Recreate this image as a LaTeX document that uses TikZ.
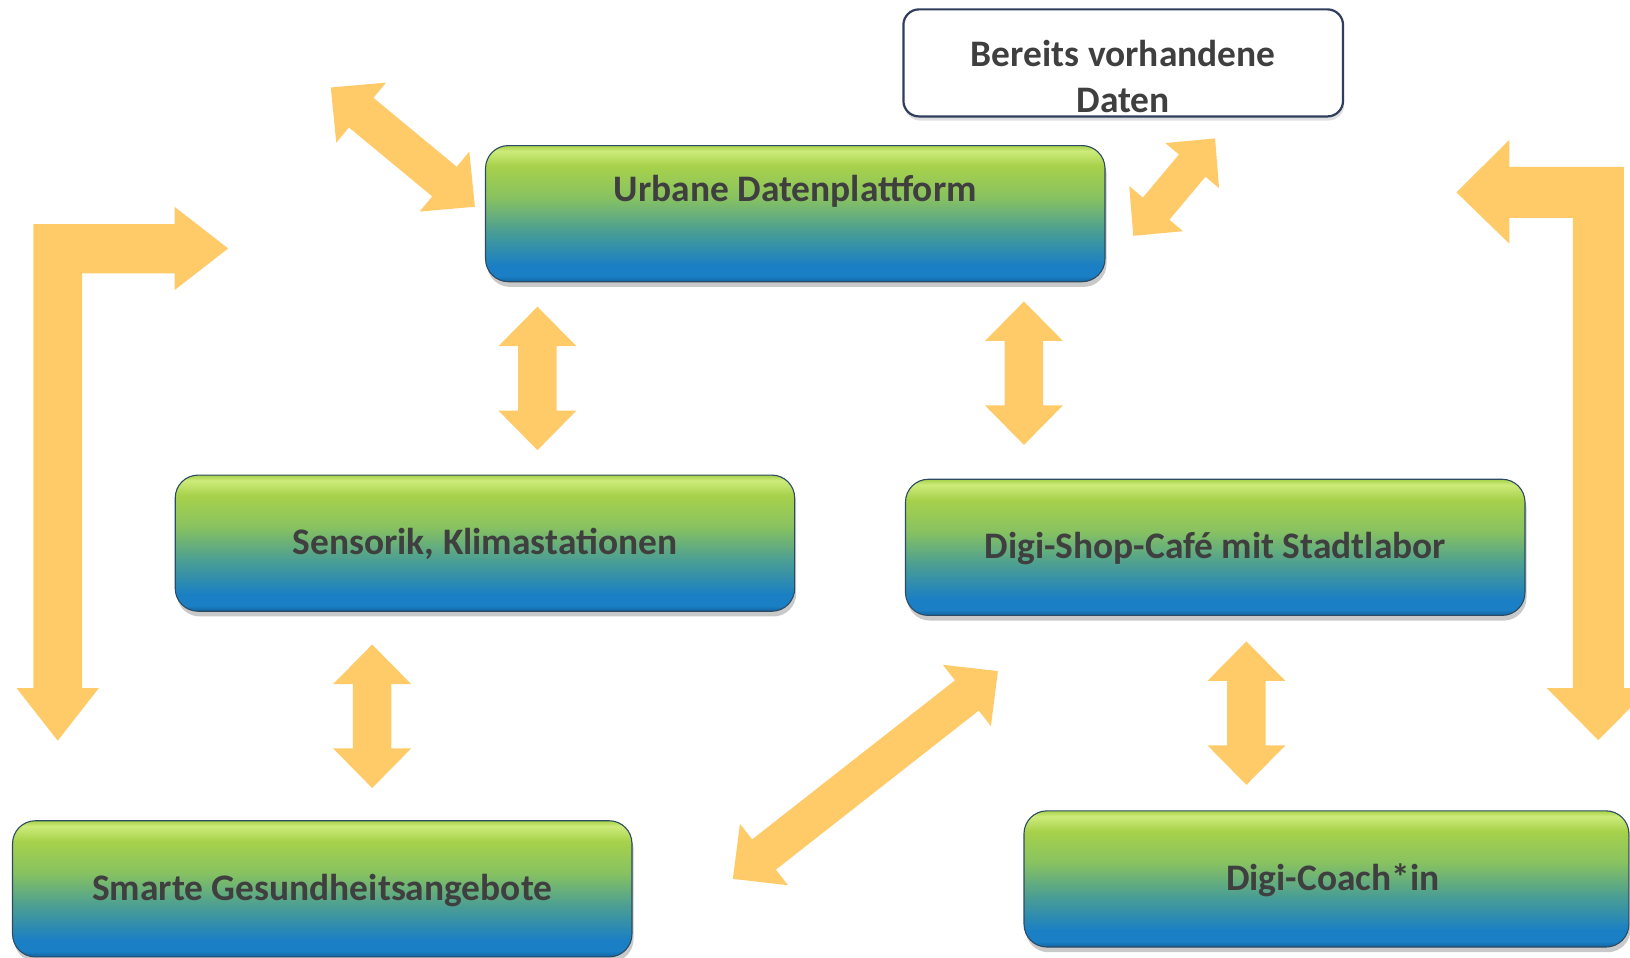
\documentclass[tikz,border=0pt]{standalone}
\usepackage{fontspec}
\setmainfont{Carlito}
\usetikzlibrary{shadows}

\definecolor{arrowfill}{HTML}{FFCB69}
\definecolor{textgray}{HTML}{3F3F3F}
\definecolor{boxedge}{HTML}{2C4B63}
\definecolor{datenedge}{HTML}{2F3E5C}
\definecolor{boxdeep}{HTML}{1263A0}
\definecolor{boxblue}{HTML}{1A7FC4}
\definecolor{boxteal}{HTML}{4C9F92}
\definecolor{boxlime}{HTML}{88C260}
\definecolor{boxgreen}{HTML}{A7D14B}
\definecolor{boxshine}{HTML}{CDEB7A}

\pgfdeclareverticalshading{glossbox}{100bp}{color(0bp)=(boxdeep); color(25bp)=(boxdeep); color(27bp)=(boxblue); color(31bp)=(boxblue); color(44bp)=(boxteal); color(56bp)=(boxlime); color(67.5bp)=(boxgreen); color(73bp)=(boxshine); color(75bp)=(boxgreen); color(100bp)=(boxgreen)}

\begin{document}
\begin{tikzpicture}[x=0.02cm, y=-0.02cm,
  greenbox/.style={rectangle, rounded corners=0.44cm, draw=boxedge, line width=0.6pt,
    shade, shading=glossbox, minimum width=11.92cm, minimum height=2.62cm, inner sep=0pt,
    text height=1.53cm, text depth=1.09cm, text=textgray,
    font=\bfseries\fontsize{20.5}{25}\selectfont,
    drop shadow={shadow xshift=0.03cm, shadow yshift=-0.1cm, opacity=0.3, fill=black!70}},
  urbanbox/.style={greenbox, text height=1.08cm, text depth=1.54cm},
  datenbox/.style={rectangle, rounded corners=0.3cm, draw=datenedge, line width=1.2pt,
    fill=white, minimum width=8.46cm, minimum height=2.06cm,
    drop shadow={shadow xshift=0.02cm, shadow yshift=-0.08cm, opacity=0.2, fill=black!60}},
  datentext/.style={align=center, inner sep=0pt, text=textgray,
    font=\bfseries\fontsize{20.5}{25}\selectfont},
  pics/dblarrow/.style={code={
    \pgfmathsetmacro\hl{#1/2}
    \pgfmathsetmacro\hb{#1/2-38}
    \fill[arrowfill] (-\hl,0) -- (-\hb,37.5) -- (-\hb,18.5) -- (\hb,18.5) -- (\hb,37.5) -- (\hl,0)
      -- (\hb,-37.5) -- (\hb,-18.5) -- (-\hb,-18.5) -- (-\hb,-37.5) -- cycle;
  }}]
\useasboundingbox (0,0) rectangle (1568,921);

% boxes
\node[datenbox] (daten) at (1080.5,60.5) {};
\node[datentext] (datentxt) at ([yshift=-0.26cm]daten.center) {Bereits vorhandene\\Daten};
\node[urbanbox] (urban) at (765,205.5) {Urbane Datenplattform};
\node[greenbox] (sensor) at (466.5,522.5) {Sensorik, Klimastationen};
\node[greenbox] (shop) at (1169,526.5) {Digi-Shop-Café mit Stadtlabor};
\node[greenbox] (health) at (310,855) {Smarte Gesundheitsangebote};
\node[greenbox, minimum width=11.64cm] (coach) at (1276,845.5) {\hspace*{0.24cm}Digi-Coach*in};

% double arrows
\pic[rotate=90] at (517,364) {dblarrow=138};
\pic[rotate=90] at (985,359) {dblarrow=138};
\pic[rotate=90] at (358,689) {dblarrow=138};
\pic[rotate=90] at (1199,686) {dblarrow=138};
\pic[rotate=-39.6] at (387.5,141.5) {dblarrow=180};
\pic[rotate=50, scale=0.9] at (1129.5,180) {dblarrow=136};
\pic[rotate=38.1] at (832.5,745.5) {dblarrow=324};

% bent arrows
\fill[arrowfill] (32,215.5) -- (168,215.5) -- (168,199) -- (219.5,239) -- (168,279) -- (168,263)
  -- (79,263) -- (79,662) -- (95,662) -- (55.5,712.5) -- (16,662) -- (32,662) -- cycle;
\fill[arrowfill] (1562,160.5) -- (1452,160.5) -- (1452,134.5) -- (1401,185) -- (1452,234.5) -- (1452,209.5)
  -- (1513,209.5) -- (1513,662) -- (1488,662) -- (1537.5,712) -- (1587,662) -- (1562,662) -- cycle;
\end{tikzpicture}
\end{document}
